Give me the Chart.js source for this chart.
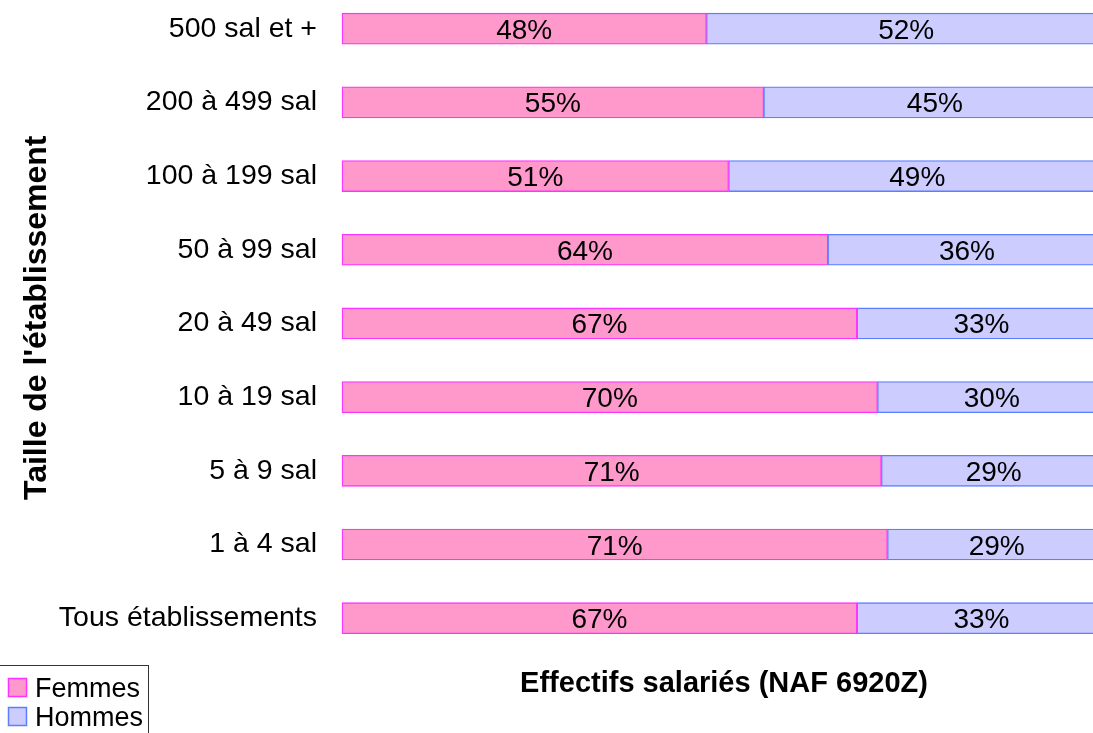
<!DOCTYPE html>
<html lang="fr">
<head>
<meta charset="utf-8">
<title>Effectifs salariés (NAF 6920Z)</title>
<script src="https://cdn.jsdelivr.net/npm/chart.js@4/dist/chart.umd.min.js"></script>
<style>
  html, body { margin: 0; padding: 0; background: #fff; overflow: hidden; }
  #wrap { position: relative; width: 1106px; height: 733px; }
</style>
</head>
<body>
<div id="wrap"><canvas id="chart"></canvas></div>
<script>
// categories, top to bottom
const categories = ['500 sal et +', '200 à 499 sal', '100 à 199 sal', '50 à 99 sal', '20 à 49 sal',
  '10 à 19 sal', '5 à 9 sal', '1 à 4 sal', 'Tous établissements'];

// shares in % (labels are these rounded)
const femmes = [47.7, 55.2, 50.6, 63.6, 67.4, 70.1, 70.6, 71.4, 67.4];
const hommes = [52.3, 44.8, 49.4, 36.4, 32.6, 29.9, 29.4, 28.6, 32.6];

const yTitle = "Taille de l'établissement";
const xTitle = 'Effectifs salariés (NAF 6920Z)';

const FONT = "'Liberation Sans', Arial, sans-serif";

// percentage text in the middle of every bar segment
const valueLabels = {
  id: 'valueLabels',
  afterDatasetsDraw(chart) {
    const ctx = chart.ctx;
    ctx.save();
    ctx.font = `28px ${FONT}`;
    ctx.fillStyle = '#000';
    ctx.textAlign = 'center';
    ctx.textBaseline = 'alphabetic';
    chart.data.datasets.forEach((ds, i) => {
      chart.getDatasetMeta(i).data.forEach((bar, j) => {
        const cx = (bar.x + bar.base) / 2;
        ctx.fillText(Math.round(ds.data[j]) + '%', cx, bar.y + 10);
      });
    });
    ctx.restore();
  }
};

// rotated y title (cut at the top like the original) + boxed legend
const extras = {
  id: 'extras',
  afterDraw(chart) {
    const ctx = chart.ctx;

    ctx.save();
    ctx.beginPath();
    ctx.rect(0, 134, 80, 400);
    ctx.clip();
    ctx.font = `bold 31px ${FONT}`;
    ctx.fillStyle = '#000';
    ctx.textAlign = 'left';
    ctx.textBaseline = 'alphabetic';
    ctx.translate(46, 500);
    ctx.rotate(-Math.PI / 2);
    ctx.scale(32 / 31, 1);
    ctx.fillText(yTitle, 0, 0);
    ctx.restore();

    ctx.save();
    ctx.strokeStyle = '#333';
    ctx.lineWidth = 1;
    ctx.strokeRect(-0.5, 665.5, 149, 80);
    ctx.font = `27px ${FONT}`;
    ctx.textBaseline = 'alphabetic';
    ctx.textAlign = 'left';
    chart.data.datasets.forEach((ds, i) => {
      const top = 678 + i * 29;
      ctx.fillStyle = ds.backgroundColor;
      ctx.fillRect(8.5, top + 0.5, 18, 18);
      ctx.strokeStyle = ds.borderColor;
      ctx.lineWidth = 1.5;
      ctx.strokeRect(8.5, top + 0.5, 18, 18);
      ctx.fillStyle = '#000';
      ctx.fillText(ds.label, 35, top + 19);
    });
    ctx.restore();
  }
};

new Chart(document.getElementById('chart'), {
  type: 'bar',
  data: {
    labels: categories,
    datasets: [
      {
        label: 'Femmes',
        data: femmes,
        backgroundColor: '#ff99cc',
        borderColor: '#ff33ff',
        borderWidth: 1.3,
        borderSkipped: false,
        barThickness: 31,
        clip: false
      },
      {
        label: 'Hommes',
        data: hommes,
        backgroundColor: '#ccccff',
        borderColor: '#5b7fff',
        borderWidth: 1.3,
        borderSkipped: false,
        barThickness: 31,
        clip: false
      }
    ]
  },
  options: {
    indexAxis: 'y',
    responsive: true,
    maintainAspectRatio: false,
    animation: false,
    layout: { padding: { top: 28.7, right: 0, bottom: 31.6, left: 0 } },
    plugins: {
      legend: { display: false },
      tooltip: { enabled: false }
    },
    scales: {
      x: {
        stacked: true,
        min: 0,
        max: 100,
        grid: { display: false, drawTicks: false },
        border: { display: false },
        ticks: { display: false },
        title: {
          display: true,
          text: xTitle,
          color: '#000',
          font: { family: FONT, size: 29, weight: 'bold' },
          padding: { top: 48.4, bottom: 0 }
        }
      },
      y: {
        stacked: true,
        offset: false,
        grid: { display: false, drawTicks: false },
        border: { display: false },
        ticks: {
          color: '#000',
          padding: 25,
          font: { family: FONT, size: 28.5 }
        },
        afterFit(scale) {
          scale.width = 342;
          scale.paddingTop = 0;
          scale.paddingBottom = 0;
        }
      }
    }
  },
  plugins: [valueLabels, extras]
});
</script>
</body>
</html>
